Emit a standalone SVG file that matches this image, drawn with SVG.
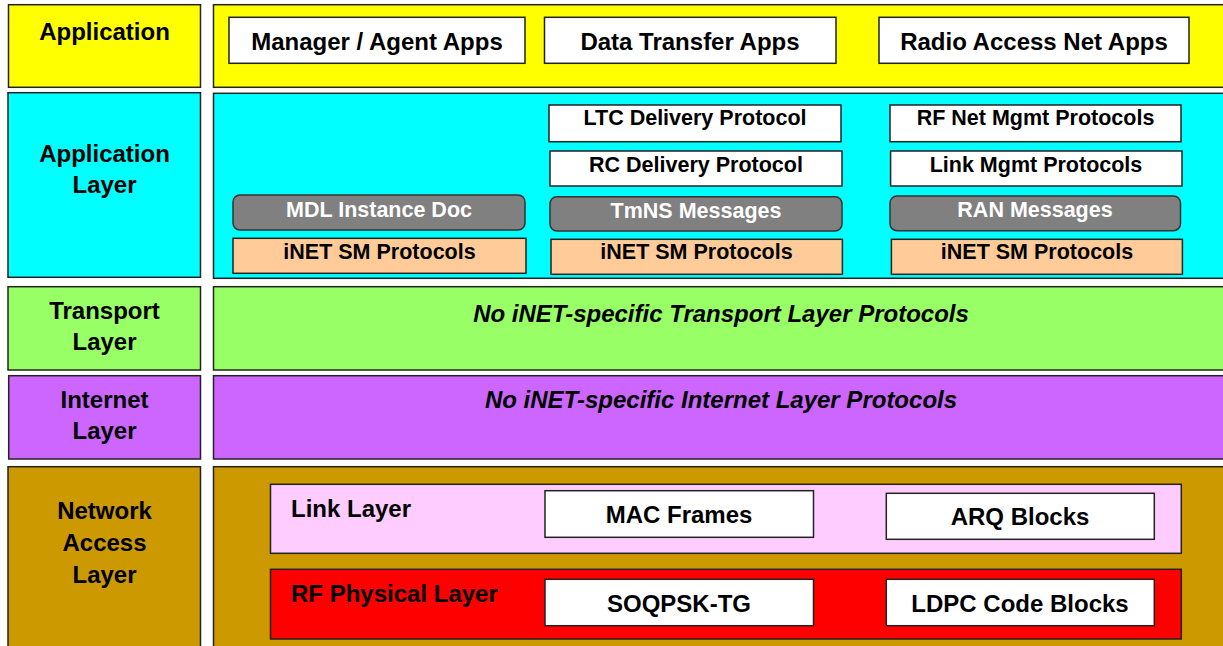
<svg xmlns="http://www.w3.org/2000/svg" width="1223" height="646" viewBox="0 0 1223 646">
<style>
text{font-family:"Liberation Sans",Arial,sans-serif;font-weight:bold;fill:#000;text-anchor:middle}
.b{stroke:#222;stroke-width:1.5}
.w{fill:#fff;stroke:#222;stroke-width:1.5}
.g{fill:#808080;stroke:#333;stroke-width:1.5}
.p{fill:#FFCC99;stroke:#222;stroke-width:1.5}
.L{font-size:24px}
.s{font-size:21.5px}
.wt{fill:#fff}
.i{font-style:italic}
</style>
<rect width="1223" height="646" fill="#fff"/>
<g id="row-application">
<rect class="b" x="8.5" y="4.7" width="192" height="82.6" fill="#FFFF00"/>
<text class="L" x="104.5" y="40">Application</text>
<rect class="b" x="213.5" y="4.7" width="1012" height="82.6" fill="#FFFF00"/>
</g>
<g id="node-manager-agent"><rect class="w" x="229" y="17.3" width="296" height="46"/><text class="L" x="377" y="50">Manager / Agent Apps</text></g>
<g id="node-data-transfer"><rect class="w" x="544.5" y="17.3" width="291.5" height="46"/><text class="L" x="690" y="50">Data Transfer Apps</text></g>
<g id="node-ran-apps"><rect class="w" x="879" y="17.3" width="310" height="46"/><text class="L" x="1034" y="50">Radio Access Net Apps</text></g>

<g id="row-application-layer">
<rect class="b" x="8" y="92.7" width="192.5" height="184.6" fill="#00FFFF"/>
<text class="L" x="104.5" y="161.7">Application</text>
<text class="L" x="104.5" y="193.3">Layer</text>
<rect class="b" x="213.5" y="93.3" width="1012" height="185" fill="#00FFFF"/>
</g>
<g id="node-ltc"><rect class="w" x="549" y="105" width="292" height="36.7"/><text class="s" x="695" y="125">LTC Delivery Protocol</text></g>
<g id="node-rc"><rect class="w" x="550" y="151" width="292" height="35"/><text class="s" x="696" y="171.7">RC Delivery Protocol</text></g>
<g id="node-rfnet"><rect class="w" x="890" y="105" width="291" height="36.7"/><text class="s" x="1035.5" y="125">RF Net Mgmt Protocols</text></g>
<g id="node-linkmgmt"><rect class="w" x="890.6" y="151" width="291.4" height="35"/><text class="s" x="1036" y="171.7">Link Mgmt Protocols</text></g>
<g id="node-mdl"><rect class="g" x="233" y="195" width="292" height="35" rx="7"/><text class="s wt" x="379" y="216.7">MDL Instance Doc</text></g>
<g id="node-tmns"><rect class="g" x="550" y="196.7" width="292" height="34.3" rx="7"/><text class="s wt" x="696" y="218.3">TmNS Messages</text></g>
<g id="node-ran-msg"><rect class="g" x="890" y="196" width="290.5" height="34.7" rx="7"/><text class="s wt" x="1035" y="217.3">RAN Messages</text></g>
<g id="node-inet-sm-1"><rect class="p" x="233" y="238.3" width="293" height="35"/><text class="s" x="379.5" y="259">iNET SM Protocols</text></g>
<g id="node-inet-sm-2"><rect class="p" x="551" y="239.3" width="291.4" height="35"/><text class="s" x="696.5" y="259">iNET SM Protocols</text></g>
<g id="node-inet-sm-3"><rect class="p" x="891.4" y="239.3" width="291" height="35"/><text class="s" x="1037" y="259">iNET SM Protocols</text></g>

<g id="row-transport">
<rect class="b" x="8" y="286.7" width="192.5" height="83.3" fill="#99FF66"/>
<text class="L" x="104.5" y="319">Transport</text>
<text class="L" x="104.5" y="350">Layer</text>
<rect class="b" x="213.5" y="286.7" width="1012" height="83.3" fill="#99FF66"/>
<text class="L i" x="721" y="321.7">No iNET-specific Transport Layer Protocols</text>
</g>

<g id="row-internet">
<rect class="b" x="8.7" y="375.7" width="191.8" height="83.3" fill="#CC66FF"/>
<text class="L" x="104.5" y="407.7">Internet</text>
<text class="L" x="104.5" y="439.3">Layer</text>
<rect class="b" x="213.5" y="375.7" width="1012" height="83.3" fill="#CC66FF"/>
<text class="L i" x="721" y="407.7">No iNET-specific Internet Layer Protocols</text>
</g>

<g id="row-network-access">
<rect class="b" x="8" y="466.7" width="192.5" height="190" fill="#CC9900"/>
<text class="L" x="104.5" y="519.3">Network</text>
<text class="L" x="104.5" y="550.7">Access</text>
<text class="L" x="104.5" y="582.7">Layer</text>
<rect class="b" x="213.5" y="466.7" width="1012" height="190" fill="#CC9900"/>
</g>
<g id="node-link-layer">
<rect class="b" x="270.5" y="484.3" width="910.8" height="69" fill="#FFCCFF"/>
<text class="L" x="291" y="516.7" style="text-anchor:start">Link Layer</text>
</g>
<g id="node-mac"><rect class="w" x="545" y="490.7" width="268.5" height="46.6"/><text class="L" x="679" y="522.7">MAC Frames</text></g>
<g id="node-arq"><rect class="w" x="886.3" y="493.3" width="268" height="46"/><text class="L" x="1020" y="525">ARQ Blocks</text></g>
<g id="node-rf-physical">
<rect class="b" x="270.5" y="569.3" width="910.8" height="69.7" fill="#FF0000"/>
<text class="L" x="291" y="601.7" style="text-anchor:start">RF Physical Layer</text>
</g>
<g id="node-soqpsk"><rect class="w" x="545" y="579.3" width="268.5" height="46.4"/><text class="L" x="679" y="611.7">SOQPSK-TG</text></g>
<g id="node-ldpc"><rect class="w" x="886.3" y="579.3" width="268" height="46.4"/><text class="L" x="1020" y="611.7">LDPC Code Blocks</text></g>
<g id="connectors"/>
</svg>
